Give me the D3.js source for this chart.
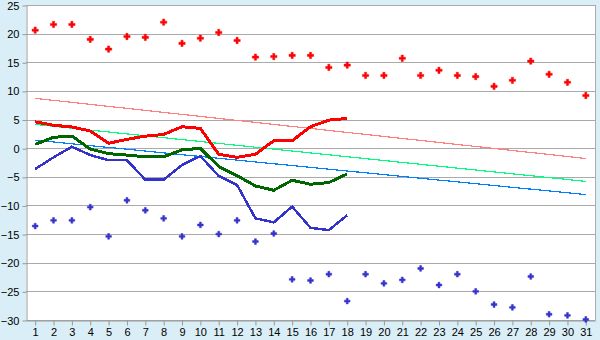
<!DOCTYPE html>
<html lang="en">
<head>
<meta charset="UTF-8">
<title>temperatures</title>
<style>
  body { margin: 0; background: #d9eef6; }
  svg { display: block; font-family: "DejaVu Sans", Verdana, sans-serif; font-size: 11px; }
  .grid line { stroke: #aaa; stroke-width: 1; }
  .axis path, .axis line { stroke: #999; }
</style>
</head>
<body>
<svg id="chart"></svg>
<script src="https://cdnjs.cloudflare.com/ajax/libs/d3/7.8.5/d3.min.js"></script>
<script>
// days of the month
var days = d3.range(1, 32);
var yTicks = [25, 20, 15, 10, 5, 0, -5, -10, -15, -20, -25, -30];

// daily record highs / lows (markers)
var recordMax = [20.6, 21.6, 21.6, 19.0, 17.3, 19.5, 19.35, 22.0, 18.3, 19.2, 20.2, 18.8, 15.9, 16.0, 16.2, 16.2,
                 14.1, 14.5, 12.7, 12.7, 15.7, 12.7, 13.6, 12.7, 12.5, 10.8, 11.85, 15.2, 12.9, 11.5, 9.2];
var recordMin = [-13.6, -12.6, -12.6, -10.3, -15.4, -9.1, -10.85, -12.25, -15.4, -13.4, -15.0, -12.6, -16.3, -14.9, -22.9, -23.1,
                 -22.0, -26.7, -22.0, -23.6, -23.0, -21.0, -23.9, -22.0, -25.0, -27.3, -27.8, -22.4, -29.0, -29.2, -29.9];

// observed this month (days 1-18)
var obsMax = [4.6, 4.0, 3.7, 3.0, 0.85, 1.55, 2.1, 2.4, 3.75, 3.45, -1.07, -1.6, -1.07, 1.3, 1.3, 3.75, 4.9, 5.2];
var obsMean = [0.67, 1.9, 2.13, -0.15, -0.96, -1.2, -1.5, -1.5, -0.3, -0.03, -3.2, -4.8, -6.6, -7.35, -5.6, -6.3, -6.0, -4.5];
var obsMin = [-3.64, -1.6, 0.26, -1.2, -2.1, -2.1, -5.5, -5.5, -2.94, -1.37, -4.86, -6.43, -12.25, -12.95, -10.2, -13.9, -14.3, -11.7];

// normals: value on first and last day
var normMax = [8.7, -1.8];
var normMean = [4.15, -5.8];
var normMin = [1.4, -8.1];

var W = 600, H = 340;
var margin = { top: 5, right: 5, bottom: 20, left: 26 };

var svg = d3.select("#chart").attr("width", W).attr("height", H);

var x = d3.scaleBand().domain(days).range([margin.left, W - margin.right]);
var y = d3.scaleLinear().domain([-30, 25]).range([H - margin.bottom, margin.top]);
var cx = function (d) { return x(d) + x.bandwidth() / 2; };

// plot background
svg.append("rect")
    .attr("x", margin.left).attr("y", margin.top)
    .attr("width", W - margin.left - margin.right)
    .attr("height", H - margin.top - margin.bottom)
    .attr("fill", "#fff");

// horizontal grid
svg.append("g").attr("class", "grid")
    .selectAll("line").data(yTicks).enter().append("line")
    .attr("x1", margin.left).attr("x2", W - margin.right)
    .attr("y1", function (d) { return Math.round(y(d)) + 0.5; })
    .attr("y2", function (d) { return Math.round(y(d)) + 0.5; });

// right border
svg.append("line")
    .attr("x1", W - margin.right + 0.5).attr("x2", W - margin.right + 0.5)
    .attr("y1", margin.top).attr("y2", H - margin.bottom)
    .attr("stroke", "#aaa");

// y axis
var yAxis = svg.append("g").attr("class", "axis")
    .attr("transform", "translate(" + (margin.left + 0.5) + ",0.5)")
    .call(d3.axisLeft(y).tickValues(yTicks).tickSize(4).tickSizeOuter(0).tickPadding(3));
yAxis.selectAll("text").attr("fill", "#000").style("font-size", "11px");

// x axis
var xAxis = svg.append("g").attr("class", "axis")
    .attr("transform", "translate(0.5," + (H - margin.bottom + 0.5) + ")")
    .call(d3.axisBottom(x).tickSize(5).tickSizeOuter(0).tickPadding(3));
xAxis.selectAll("text").attr("fill", "#000").style("font-size", "11px");

// normals (straight lines)
var normals = [
    { v: normMax, color: "#ff8080" },
    { v: normMean, color: "#00ff80" },
    { v: normMin, color: "#0080ff" }
];
svg.append("g").selectAll("line").data(normals).enter().append("line")
    .attr("x1", cx(days[0])).attr("x2", cx(days[days.length - 1]))
    .attr("y1", function (d) { return y(d.v[0]); })
    .attr("y2", function (d) { return y(d.v[1]); })
    .attr("stroke", function (d) { return d.color; })
    .attr("stroke-width", 1.2)
    .attr("shape-rendering", "crispEdges");

// observed lines
var line = d3.line()
    .x(function (d, i) { return cx(days[i]); })
    .y(function (d) { return y(d); });

var observed = [
    { v: obsMin, color: "#3333cc", w: 2.5 },
    { v: obsMean, color: "#006600", w: 3 },
    { v: obsMax, color: "#ff0000", w: 3 }
];
svg.append("g").selectAll("path").data(observed).enter().append("path")
    .attr("d", function (d) { return line(d.v); })
    .attr("fill", "none")
    .attr("stroke", function (d) { return d.color; })
    .attr("stroke-width", function (d) { return d.w; })
    .attr("stroke-linejoin", "round")
    .attr("shape-rendering", "crispEdges");

// record markers
var records = [
    { v: recordMax, color: "#ff0000", size: 22 },
    { v: recordMin, color: "#3333cc", size: 18 }
];
records.forEach(function (r) {
    var cross = d3.symbol().type(d3.symbolCross).size(r.size);
    svg.append("g").selectAll("path").data(r.v).enter().append("path")
        .attr("d", cross)
        .attr("transform", function (d, i) { return "translate(" + cx(days[i]) + "," + y(d) + ")"; })
        .attr("fill", r.color)
        .attr("stroke", r.color)
        .attr("stroke-width", 0.5);
});
</script>
</body>
</html>
